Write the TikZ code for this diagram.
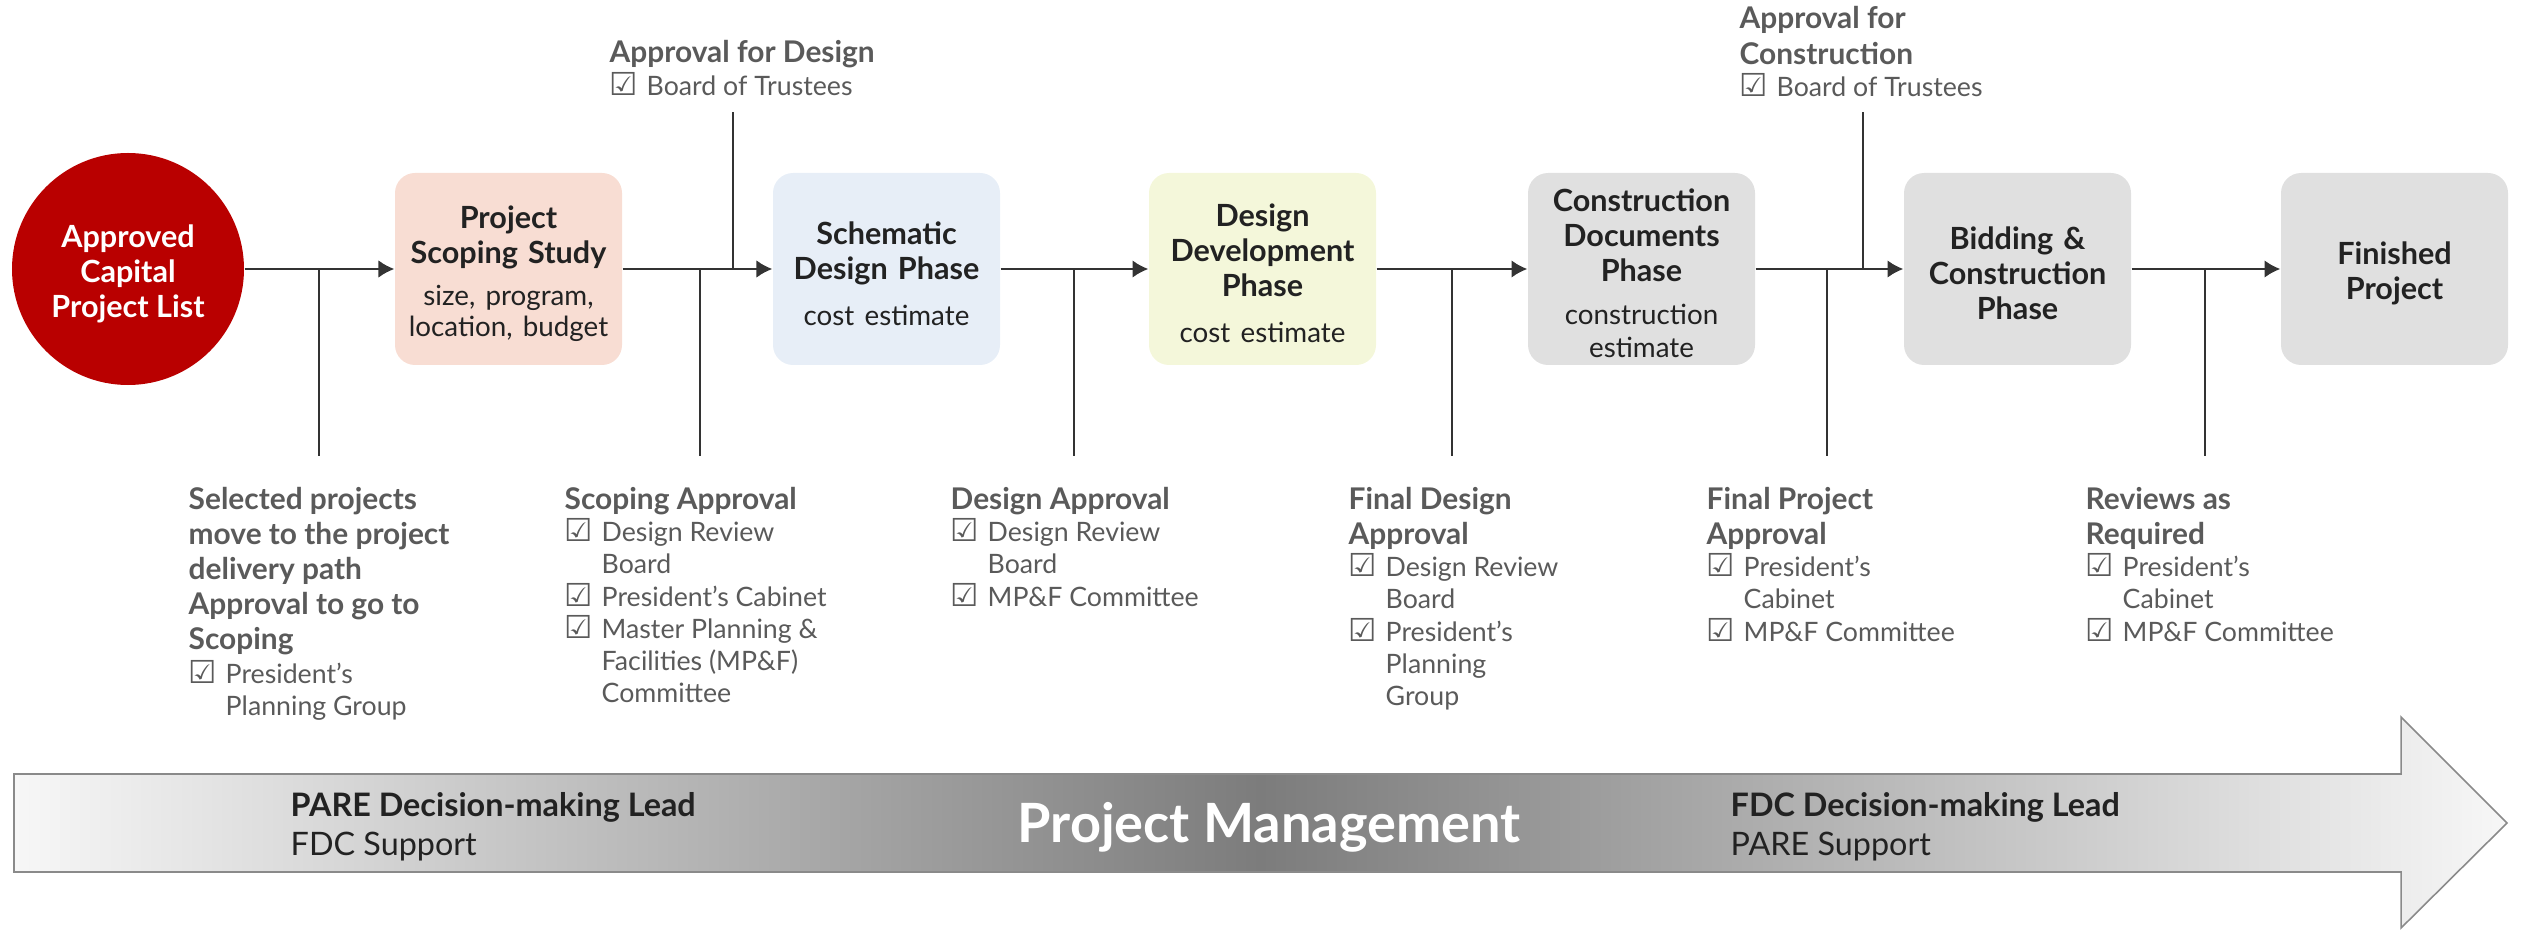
\documentclass[tikz,border=0pt]{standalone}
\usepackage{fontspec}
\setmainfont{Lato}
\newfontfamily\chkfont{DejaVu Sans}
\usetikzlibrary{arrows.meta}
\tikzset{>={Latex[length=4.5pt,width=5pt]}}
\definecolor{capred}{RGB}{185,0,0}
\definecolor{scopefill}{HTML}{F8DDD3}
\definecolor{schemfill}{HTML}{E7EEF7}
\definecolor{ddevfill}{HTML}{F4F7DA}
\definecolor{grayfill}{HTML}{E0E0E0}
\definecolor{boxtext}{HTML}{222222}
\definecolor{lblgray}{HTML}{5A5A5A}
\definecolor{linecol}{HTML}{333333}
\definecolor{pmlight}{HTML}{F7F7F7}
\definecolor{pmdark}{HTML}{7C7C7C}
\definecolor{pmedge}{HTML}{8A8A8A}

\newcommand{\chk}{\makebox[0.37cm][l]{\chkfont\fontsize{9}{9}\selectfont\char"2611}}
\newcommand{\ind}{\hspace*{0.37cm}}
\newcommand{\hd}[1]{{\fontsize{8.5}{10}\selectfont\bfseries #1}}
\newcommand{\sub}[1]{{\mdseries\fontsize{7.9}{9}\selectfont #1}}

\tikzset{
  phase/.style={rounded corners=0.2cm, minimum width=2.27cm, minimum height=1.92cm,
    text width=2.2cm, align=center, inner sep=0pt, text=boxtext,
    font=\fontsize{8.7}{9.96}\selectfont\bfseries,
    execute at begin node={\rule{0pt}{9pt}}},
  flow/.style={linecol, line width=0.6pt},
  lbl/.style={anchor=base west, inner sep=0pt, text=lblgray,
    font=\fontsize{7.6}{9.1}\selectfont},
  pmarrow/.style={draw=pmedge, line width=0.45pt, left color=pmlight,
    right color=pmlight, middle color=pmdark},
  sidetext/.style={anchor=base west, inner sep=0pt, text=boxtext,
    font=\fontsize{9.2}{11}\selectfont}
}

\begin{document}
\begin{tikzpicture}[x=1cm, y=-1cm]
\useasboundingbox (0,0) rectangle (25.24,9.30);

% phases
\node[circle, fill=capred, minimum size=2.32cm, inner sep=0pt, align=center,
  text=white, font=\fontsize{8.7}{9.96}\selectfont\bfseries]
  (start) at (1.28,2.69) {\rule{0pt}{9pt}Approved\\Capital\\Project List};
\node[phase, fill=scopefill] (scope) at (5.085,2.69)
  {Project\\Scoping Study\\[3.1pt]\sub{size, program,\\[-1.2pt]location, budget}};
\node[phase, fill=schemfill] (schem) at (8.865,2.69)
  {Schematic\\Design Phase\\[3.1pt]\sub{cost estimate}};
\node[phase, fill=ddevfill] (ddev) at (12.625,2.69)
  {Design\\Development\\Phase\\[3.1pt]\sub{cost estimate}};
\node[phase, fill=grayfill] (cdoc) at (16.415,2.69)
  {Construction\\Documents\\Phase\\[3.1pt]\sub{construction\\[-0.6pt]estimate}};
\node[phase, fill=grayfill] (bid) at (20.175,2.69)
  {Bidding \&\\Construction\\Phase};
\node[phase, fill=grayfill] (fin) at (23.945,2.69) {Finished\\Project};

\draw[flow, ->] (start) -- (scope);
\draw[flow, ->] (scope) -- (schem);
\draw[flow, ->] (schem) -- (ddev);
\draw[flow, ->] (ddev) -- (cdoc);
\draw[flow, ->] (cdoc) -- (bid);
\draw[flow, ->] (bid) -- (fin);

% approval branches
\coordinate (j1) at (3.19,2.69);  \coordinate (d1) at (3.19,4.56);
\coordinate (j2) at (7.00,2.69);  \coordinate (d2) at (7.00,4.56);
\coordinate (j3) at (10.74,2.69); \coordinate (d3) at (10.74,4.56);
\coordinate (j4) at (14.52,2.69); \coordinate (d4) at (14.52,4.56);
\coordinate (j5) at (18.27,2.69); \coordinate (d5) at (18.27,4.56);
\coordinate (j6) at (22.05,2.69); \coordinate (d6) at (22.05,4.56);
\coordinate (k1) at (7.33,2.69);  \coordinate (u1) at (7.33,1.12);
\coordinate (k2) at (18.63,2.69); \coordinate (u2) at (18.63,1.12);
\draw[flow] (j1) -- (d1);
\draw[flow] (j2) -- (d2);
\draw[flow] (j3) -- (d3);
\draw[flow] (j4) -- (d4);
\draw[flow] (j5) -- (d5);
\draw[flow] (j6) -- (d6);
\draw[flow] (k1) -- (u1);
\draw[flow] (k2) -- (u2);

\node[lbl] (apdesign) at (6.09,0.63) {\begin{tabular}[t]{@{}l@{}}
  \hd{Approval for Design}\\
  \chk Board of Trustees
\end{tabular}};
\node[lbl] (apcons) at (17.39,0.29) {\begin{tabular}[t]{@{}l@{}}
  \hd{Approval for}\\[0.9pt]
  \hd{Construction}\\
  \chk Board of Trustees
\end{tabular}};

\node[lbl] (selected) at (1.88,5.09) {\begin{tabular}[t]{@{}l@{}}
  \hd{Selected projects}\\[0.9pt]
  \hd{move to the project}\\[0.9pt]
  \hd{delivery path}\\[0.9pt]
  \hd{Approval to go to}\\[0.9pt]
  \hd{Scoping}\\[0.3pt]
  \chk President’s\\
  \ind Planning Group
\end{tabular}};
\node[lbl] (scopeok) at (5.64,5.09) {\begin{tabular}[t]{@{}l@{}}
  \hd{Scoping Approval}\\
  \chk Design Review\\
  \ind Board\\
  \chk President’s Cabinet\\
  \chk Master Planning \&\\
  \ind Facilities (MP\&F)\\
  \ind Committee
\end{tabular}};
\node[lbl] (designok) at (9.50,5.09) {\begin{tabular}[t]{@{}l@{}}
  \hd{Design Approval}\\
  \chk Design Review\\
  \ind Board\\
  \chk MP\&F Committee
\end{tabular}};
\node[lbl] (finaldesign) at (13.48,5.09) {\begin{tabular}[t]{@{}l@{}}
  \hd{Final Design}\\[0.9pt]
  \hd{Approval}\\
  \chk Design Review\\
  \ind Board\\
  \chk President’s\\
  \ind Planning\\
  \ind Group
\end{tabular}};
\node[lbl] (finalproject) at (17.06,5.09) {\begin{tabular}[t]{@{}l@{}}
  \hd{Final Project}\\[0.9pt]
  \hd{Approval}\\
  \chk President’s\\
  \ind Cabinet\\
  \chk MP\&F Committee
\end{tabular}};
\node[lbl] (reviews) at (20.85,5.09) {\begin{tabular}[t]{@{}l@{}}
  \hd{Reviews as}\\[0.9pt]
  \hd{Required}\\
  \chk President’s\\
  \ind Cabinet\\
  \chk MP\&F Committee
\end{tabular}};

% project management arrow
\draw[pmarrow] (0.14,7.74) -- (24.01,7.74) -- (24.01,7.17) -- (25.07,8.23)
  -- (24.01,9.28) -- (24.01,8.72) -- (0.14,8.72) -- cycle;
\node[sidetext, font=\fontsize{9.2}{11}\selectfont\bfseries] (paralead) at (2.90,8.16) {PARE Decision-making Lead};
\node[sidetext] (fdcsup) at (2.90,8.55) {FDC Support};
\node[sidetext, font=\fontsize{9.2}{11}\selectfont\bfseries] (fdclead) at (17.30,8.16) {FDC Decision-making Lead};
\node[sidetext] (paresup) at (17.30,8.55) {PARE Support};
\node[anchor=base, inner sep=0pt, text=white, font=\fontsize{15.4}{18}\selectfont\bfseries]
  (pm) at (12.69,8.42) {Project Management};
\end{tikzpicture}
\end{document}
